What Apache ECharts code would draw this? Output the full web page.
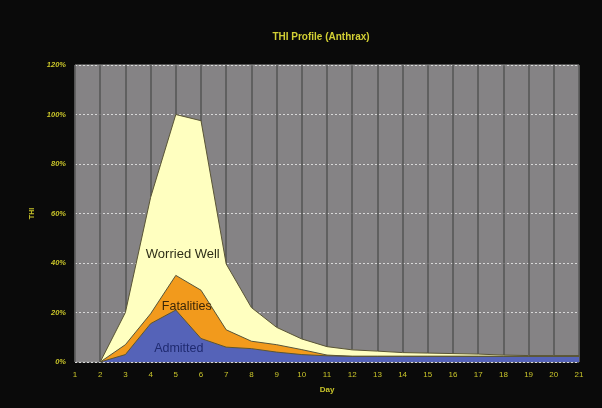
<!DOCTYPE html>
<html>
<head>
<meta charset="utf-8">
<script src="https://cdn.jsdelivr.net/npm/echarts@6/dist/echarts.min.js"></script>
<style>html,body{margin:0;padding:0;background:#0a0a0a;}#c{width:602px;height:408px;}</style>
</head>
<body>
<div id="c"></div>
<script>
const days = ['1','2','3','4','5','6','7','8','9','10','11','12','13','14','15','16','17','18','19','20','21'];
const admitted   = [null, 0, 3, 15.5, 21, 9.5, 6, 5.4, 4, 3, 2.5, 2.3, 2.3, 2.3, 2.3, 2.3, 2.3, 2.3, 2.3, 2.3, 2.3];
const fatalities = [null, 0, 4, 4, 14, 19.5, 7, 3, 3, 2, 0.3, 0, 0, 0, 0, 0, 0, 0, 0, 0, 0];
const worriedWell= [null, 0, 13, 47, 65, 68.5, 26.6, 13.6, 7, 4.3, 3.4, 2.6, 2.1, 1.5, 1.3, 1.1, 0.9, 0.5, 0.3, 0.3, 0.3];
const yTicks = [0,20,40,60,80,100,120];

const chart = echarts.init(document.getElementById('c'));
const font = 'Liberation Sans, Arial';
const lbl = {color:'#c9c52a', fontSize:7.5, fontStyle:'italic', fontWeight:'bold', fontFamily:font};
function seriesOf(name, vals, color, text, coord, off, tcolor, fs){
  return {
    name, type:'line', stack:'total', data:vals, symbol:'none',
    lineStyle:{color:'#5a5535', width:1},
    areaStyle:{color, opacity:1},
    markPoint:{symbol:'circle', symbolSize:0, silent:true, data:[{coord, value:text}],
      label:{show:true, position:'inside', offset:off, formatter:text, color:tcolor, fontSize:fs, fontFamily:font}}
  };
}
chart.setOption({
  backgroundColor:'#0a0a0a',
  animation:false,
  title:{text:'THI Profile (Anthrax)', left:316, top:27, textAlign:'center',
    textStyle:{color:'#d2cf34', fontSize:10, fontWeight:'bold', fontFamily:font}},
  grid:{left:75, right:23, top:65, bottom:46, show:true, backgroundColor:'#858385', borderColor:'#9a9a9a', borderWidth:1},
  xAxis:{type:'category', data:days, boundaryGap:false, name:'Day', nameLocation:'middle', nameGap:24,
    nameTextStyle:{color:'#c9c52a', fontSize:8, fontWeight:'bold', fontFamily:font},
    axisLine:{show:false}, axisTick:{show:false},
    axisLabel:{margin:9, fontSize:8, color:'#c9c52a', fontFamily:font, interval:0},
    splitLine:{show:true, interval:0, lineStyle:{color:'#555555', width:1.5}}},
  yAxis:{type:'value', min:0, max:120, interval:20, name:'THI', nameLocation:'middle', nameGap:38, nameRotate:90,
    nameTextStyle:{color:'#c9c52a', fontSize:7, fontWeight:'bold', fontFamily:font},
    axisLine:{show:false}, axisTick:{show:false},
    axisLabel:Object.assign({margin:9, formatter:v=> yTicks.includes(v)? v+'%':''}, lbl),
    splitLine:{show:true, lineStyle:{color:'#d8d8d8', width:1, type:[2,2]}}},
  series:[
    seriesOf('Admitted', admitted, '#5563b8', 'Admitted', ['5', 5.5], [3,0], '#1f2a70', 12.5),
    seriesOf('Fatalities', fatalities, '#f29a1c', 'Fatalities', ['5', 22.5], [11,0], '#3a2608', 12.5),
    seriesOf('Worried Well', worriedWell, '#ffffc0', 'Worried Well', ['5', 43.3], [7,0], '#2e2e18', 13)
  ]
});
</script>
</body>
</html>
